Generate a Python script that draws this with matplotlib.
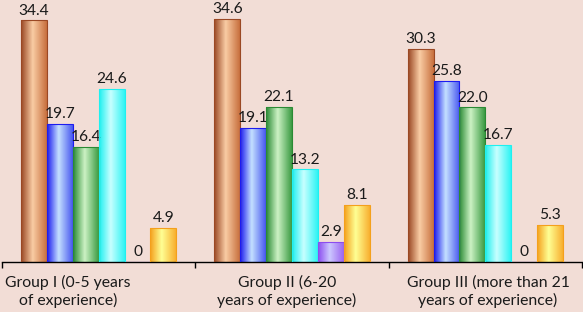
import numpy as np
import matplotlib.pyplot as plt
from matplotlib.colors import LinearSegmentedColormap

plt.rcParams['font.family'] = ['Lato', 'DejaVu Sans']

groups = ["Group I (0-5 years\nof experience)",
          "Group II (6-20\nyears of experience)",
          "Group III (more than 21\nyears of experience)"]
s1 = [34.4, 34.6, 30.3]
s2 = [19.7, 19.1, 25.8]
s3 = [16.4, 22.1, 22.0]
s4 = [24.6, 13.2, 16.7]
s5 = [0, 2.9, 0]
s6 = [4.9, 8.1, 5.3]
labels = [["34.4", "34.6", "30.3"],
          ["19.7", "19.1", "25.8"],
          ["16.4", "22.1", "22.0"],
          ["24.6", "13.2", "16.7"],
          ["0", "2.9", "0"],
          ["4.9", "8.1", "5.3"]]
series = [s1, s2, s3, s4, s5, s6]

# (edge, light, right edge) per series
shades = [("#9a4824", "#f9cca4", "#c8703e"),
          ("#1c1cf0", "#c4e0ff", "#4858f0"),
          ("#2a8a34", "#ccf2c4", "#3c9c44"),
          ("#1ef0f0", "#c8ffff", "#30f4f4"),
          ("#8c4cf0", "#ccc8ff", "#9c64f0"),
          ("#f4a01c", "#ffff94", "#f8b030")]

bg = "#f2ddd6"
fig = plt.figure(figsize=(5.83, 3.12), dpi=100, facecolor=bg)
ax = fig.add_axes([2/583, 50/312, 580/583, 262/312], facecolor=bg)

w = 0.134
x = np.arange(len(groups))
grad = np.linspace(0, 1, 64)[np.newaxis, :]
for i, vals in enumerate(series):
    c0, c1, c2 = shades[i]
    cmap = LinearSegmentedColormap.from_list("g%d" % i, [(0, c0), (0.45, c1), (1, c2)])
    pos = x + (i - 2.5) * w
    bars = ax.bar(pos, vals, w, facecolor="none", edgecolor=c0, linewidth=0.8, zorder=3)
    for b, v, lab in zip(bars, vals, labels[i]):
        if v > 0:
            im = ax.imshow(grad, extent=[b.get_x(), b.get_x() + w, 0, v],
                           aspect="auto", cmap=cmap, zorder=2)
            im.set_clip_path(b)
        ax.annotate(lab, (b.get_x() + w / 2, v), xytext=(0, 2), textcoords="offset points",
                    ha="center", va="bottom", fontsize=11.2, color="#1a1a1a",
                    annotation_clip=False)

ax.set_xlim(-0.5, 2.5)
ax.set_ylim(0, 37.3)
for s in ["left", "right", "top"]:
    ax.spines[s].set_visible(False)
ax.spines["bottom"].set_color("#000000")
ax.spines["bottom"].set_linewidth(1)
ax.set_xticks([-0.5, 0.5, 1.5, 2.5])
ax.set_xticklabels([])
ax.tick_params(axis="x", length=4, width=1, color="#000000", direction="out")
ax.set_yticks([])

label_x = [-0.159, 0.974, 2.014]
for lx, g in zip(label_x, groups):
    ax.text(lx, -1.85, g, ha="center", va="top", fontsize=11.3, color="#1a1a1a",
            linespacing=1.2)

fig.savefig("out.png", dpi=100, facecolor=bg)
